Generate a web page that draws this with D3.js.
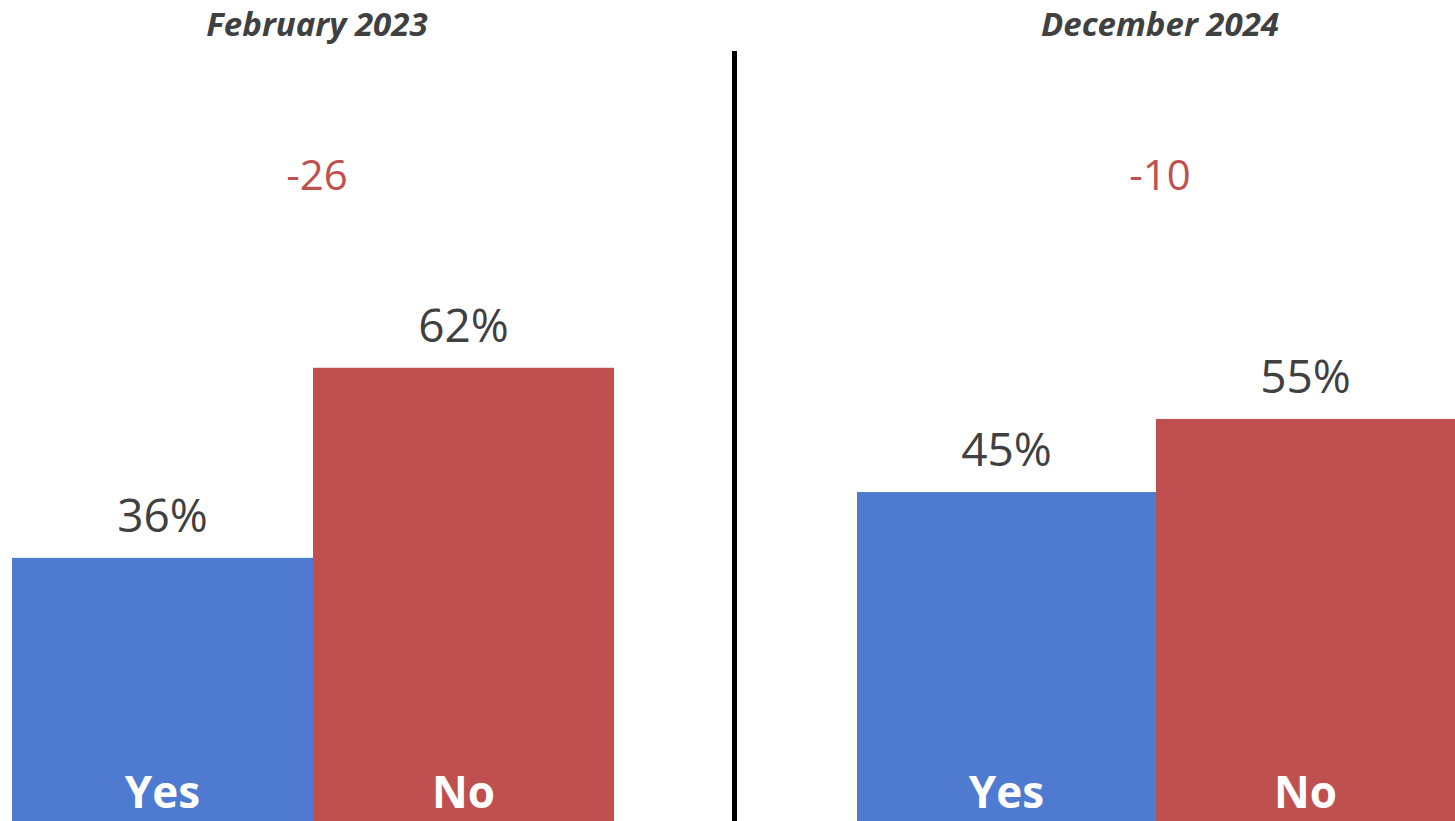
<!DOCTYPE html>
<html>
<head>
<meta charset="utf-8">
<script src="https://cdn.jsdelivr.net/npm/d3@7"></script>
<style>
  body { margin: 0; background: #fff; }
  svg { display: block; font-family: "Open Sans", "Noto Sans", sans-serif; }
</style>
</head>
<body>
<script>
// data //
const periods = ["February 2023", "December 2024"];
const answers = ["Yes", "No"];
const yesValues = [36, 45];
const noValues = [62, 55];
const netValues = [-26, -10];

const width = 1455;
const height = 821;

const colors = { Yes: "#4e7bd0", No: "#c0504f" };

// one x range per panel //
const panelRanges = [[12, 614], [857, 1455]];

const y = d3.scaleLinear()
  .domain([0, 100])
  .range([821, 90]);

const svg = d3.select("body")
  .append("svg")
  .attr("width", width)
  .attr("height", height);

// divider between the two panels
svg.append("line")
  .attr("x1", 734.5).attr("x2", 734.5)
  .attr("y1", 51).attr("y2", height)
  .attr("stroke", "#000")
  .attr("stroke-width", 5);

periods.forEach(function(period, i) {
  const x = d3.scaleBand()
    .domain(answers)
    .range(panelRanges[i])
    .padding(0);

  const center = (panelRanges[i][0] + panelRanges[i][1]) / 2 + 4;
  const rows = [
    { answer: "Yes", value: yesValues[i] },
    { answer: "No", value: noValues[i] }
  ];

  const g = svg.append("g").attr("class", "panel");

  // title
  g.append("text")
    .attr("x", center)
    .attr("y", 36)
    .attr("text-anchor", "middle")
    .attr("font-size", 33)
    .attr("font-weight", "bold")
    .attr("font-style", "italic")
    .attr("fill", "#404040")
    .text(period);

  // net difference
  g.append("text")
    .attr("x", center)
    .attr("y", 190)
    .attr("text-anchor", "middle")
    .attr("font-size", 42)
    .attr("fill", "#c0504f")
    .text(netValues[i]);

  // bars
  g.selectAll(".bar")
    .data(rows)
    .enter().append("rect")
    .attr("class", "bar")
    .attr("x", d => x(d.answer))
    .attr("width", x.bandwidth())
    .attr("y", d => y(d.value))
    .attr("height", d => y(0) - y(d.value))
    .attr("fill", d => colors[d.answer]);

  // value labels
  g.selectAll(".value")
    .data(rows)
    .enter().append("text")
    .attr("class", "value")
    .attr("x", d => x(d.answer) + x.bandwidth() / 2)
    .attr("y", d => y(d.value) - 26)
    .attr("text-anchor", "middle")
    .attr("font-size", 46)
    .attr("fill", "#404040")
    .text(d => d.value + "%");

  // category labels inside bars
  g.selectAll(".cat")
    .data(rows)
    .enter().append("text")
    .attr("class", "cat")
    .attr("x", d => x(d.answer) + x.bandwidth() / 2)
    .attr("y", 808)
    .attr("text-anchor", "middle")
    .attr("font-size", 44)
    .attr("font-weight", "bold")
    .attr("fill", "#fff")
    .text(d => d.answer);
});
</script>
</body>
</html>
